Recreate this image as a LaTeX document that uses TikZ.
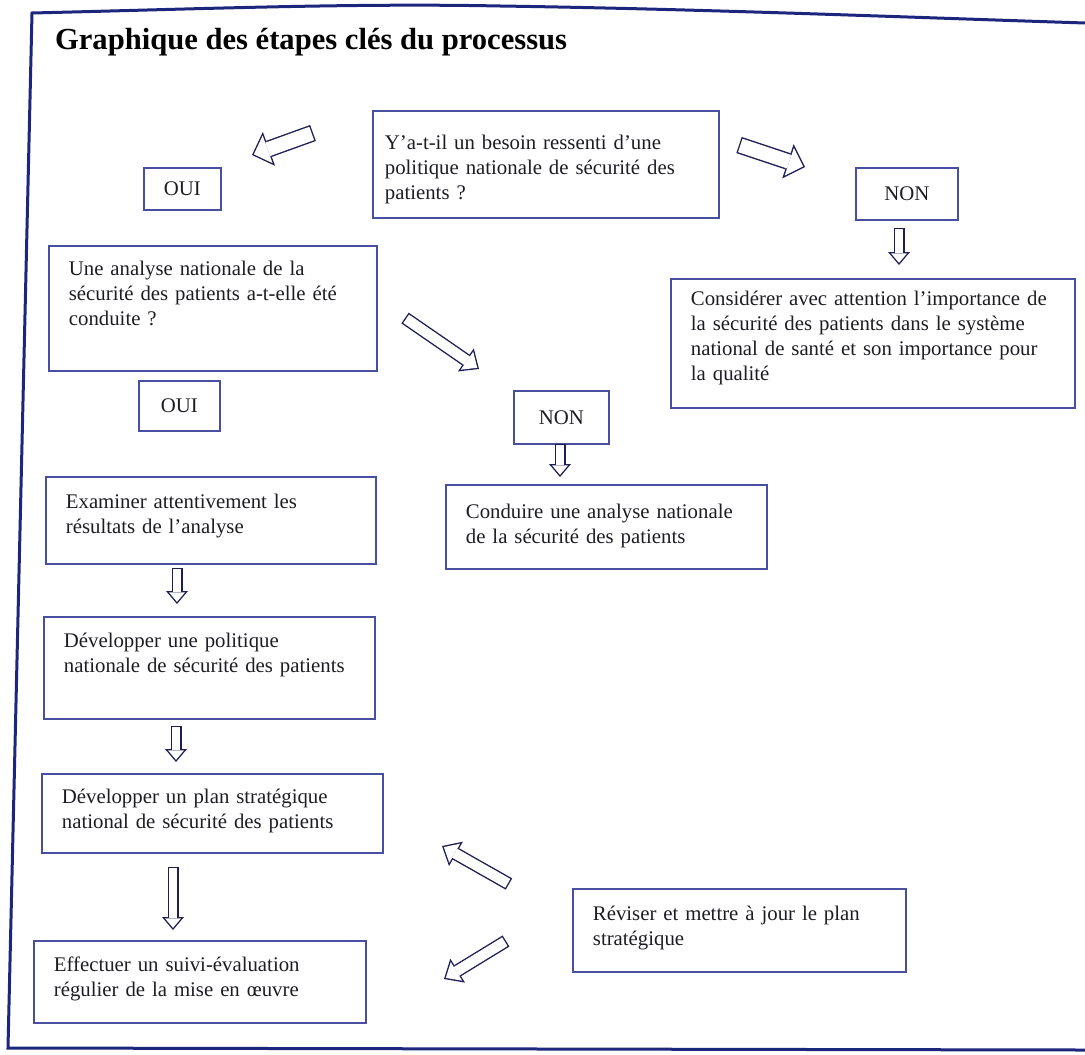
\documentclass[tikz,border=0pt]{standalone}
\usepackage{fontspec}
\setmainfont{Liberation Serif}
\usetikzlibrary{arrows.meta,positioning,calc}
\definecolor{boxline}{RGB}{72,78,160}
\definecolor{arrowink}{RGB}{30,30,85}
\definecolor{frameink}{RGB}{28,38,125}
\definecolor{textink}{RGB}{30,28,34}

\begin{document}
\begin{tikzpicture}[x=0.5pt, y=-0.5pt,
  stepbox/.style={draw=boxline, line width=0.9pt, anchor=north west, text=textink,
                  text width=#1, align=left, inner xsep=10pt, inner ysep=6pt,
                  text height=9pt, font=\fontsize{10.4}{12.5}\selectfont},
  tag/.style={draw=boxline, line width=0.9pt, anchor=north west, text=textink,
              minimum width=#1, minimum height=25pt, inner sep=0pt,
              font=\fontsize{10.4}{12.5}\selectfont},
  smallarrow/.style={draw=arrowink, line width=5.5pt,
              -{Triangle[length=6.5pt, width=11pt, line width=0pt]},
              postaction={draw=white, line width=4.1pt, shorten <=0.7pt, shorten >=1.08pt,
                          -{Triangle[length=4.72pt, width=7.99pt, line width=0pt]}}},
  midarrow/.style={draw=arrowink, line width=6.5pt,
              -{Triangle[length=8pt, width=14pt, line width=0pt]},
              postaction={draw=white, line width=5.1pt, shorten <=0.7pt, shorten >=1.06pt,
                          -{Triangle[length=6.24pt, width=10.92pt, line width=0pt]}}},
  bigarrow/.style={draw=arrowink, line width=8.5pt,
              -{Triangle[length=9pt, width=18pt, line width=0pt]},
              postaction={draw=white, line width=7.1pt, shorten <=0.7pt, shorten >=0.99pt,
                          -{Triangle[length=7.31pt, width=14.62pt, line width=0pt]}}}]

  \useasboundingbox (0,0) rectangle (1085,1054);

  % frame of the page
  \draw[frameink, line width=1.5pt]
    (1085,23) .. controls (900,17) and (700,9) .. (500,6)
              .. controls (350,3) and (200,9) .. (32,13)
    -- (8,1048) -- (1085,1050);

  \node[anchor=base west, text=black, font=\fontsize{15.3}{18}\selectfont\bfseries]
    (title) at (48,50) {Graphique des étapes clés du processus};

  % first question
  \node[stepbox=161pt, inner xsep=6pt, text height=13.5pt, text depth=28pt] (q1) at (372,110)
    {Y’a-t-il un besoin ressenti d’une\\politique nationale de sécurité des\\patients ?};
  \node[tag=38.5pt, minimum height=21pt] (oui1) at (143,167) {OUI};
  \node[tag=51pt, minimum height=26pt]   (non1) at (855,167) {NON};
  \node[stepbox=182pt, text height=7.5pt, text depth=45pt] (cons) at (670,278)
    {Considérer avec attention l’importance de\\la sécurité des patients dans le système\\national de santé et son importance pour\\la qualité};

  % second question
  \node[stepbox=144pt, text depth=41.5pt] (q2) at (48,245)
    {Une analyse nationale de la\\sécurité des patients a-t-elle été\\conduite ?};
  \node[tag=40.5pt]                        (oui2) at (138,380) {OUI};
  \node[tag=47.5pt, minimum height=26.5pt] (non2) at (513,390) {NON};
  \node[stepbox=140.5pt, text height=11pt, text depth=19pt] (cond) at (445,484)
    {Conduire une analyse nationale\\de la sécurité des patients};

  % main chain
  \node[stepbox=145pt, text height=10pt, text depth=21.5pt] (exam) at (45,476)
    {Examiner attentivement les\\résultats de l’analyse};
  \node[stepbox=145.5pt, text height=9.5pt, text depth=29.5pt] (polit) at (43,616)
    {Développer une politique\\nationale de sécurité des patients};
  \node[stepbox=150.5pt, text depth=18.5pt] (plan) at (41,773)
    {Développer un plan stratégique\\national de sécurité des patients};
  \node[stepbox=146pt, text height=9.5pt, text depth=19.5pt] (suivi) at (33,940)
    {Effectuer un suivi-évaluation\\régulier de la mise en œuvre};
  \node[stepbox=146.5pt, text height=10pt, text depth=19.5pt] (revis) at (572,888)
    {Réviser et mettre à jour le plan\\stratégique};

  % arrow ends
  \coordinate (q1toOui)   at (313,133); \coordinate (oui1in)  at (252,155);
  \coordinate (q1toNon)   at (739,145); \coordinate (non1in)  at (805,167);
  \coordinate (non1out)   at (899,228); \coordinate (consin)  at (899,265);
  \coordinate (q2toNon)   at (405,318); \coordinate (non2in)  at (479,369);
  \coordinate (non2out)   at (560,444); \coordinate (condin)  at (560,477);
  \coordinate (examout)   at (177,568); \coordinate (politin) at (177,604);
  \coordinate (politout)  at (176,726); \coordinate (planin)  at (176,762);
  \coordinate (planout)   at (173,867); \coordinate (suiviin) at (173,930);
  \coordinate (revisup)   at (509,884); \coordinate (planback)  at (442,846);
  \coordinate (revisdown) at (506,941); \coordinate (suiviback) at (444,979);

  \draw[bigarrow]   (q1toOui) -- (oui1in);
  \draw[bigarrow]   (q1toNon) -- (non1in);
  \draw[smallarrow] (non1out) -- (consin);
  \draw[midarrow]   (q2toNon) -- (non2in);
  \draw[smallarrow] (non2out) -- (condin);
  \draw[smallarrow] (examout) -- (politin);
  \draw[smallarrow] (politout) -- (planin);
  \draw[smallarrow] (planout) -- (suiviin);
  \draw[midarrow]   (revisup) -- (planback);
  \draw[midarrow]   (revisdown) -- (suiviback);
\end{tikzpicture}
\end{document}
